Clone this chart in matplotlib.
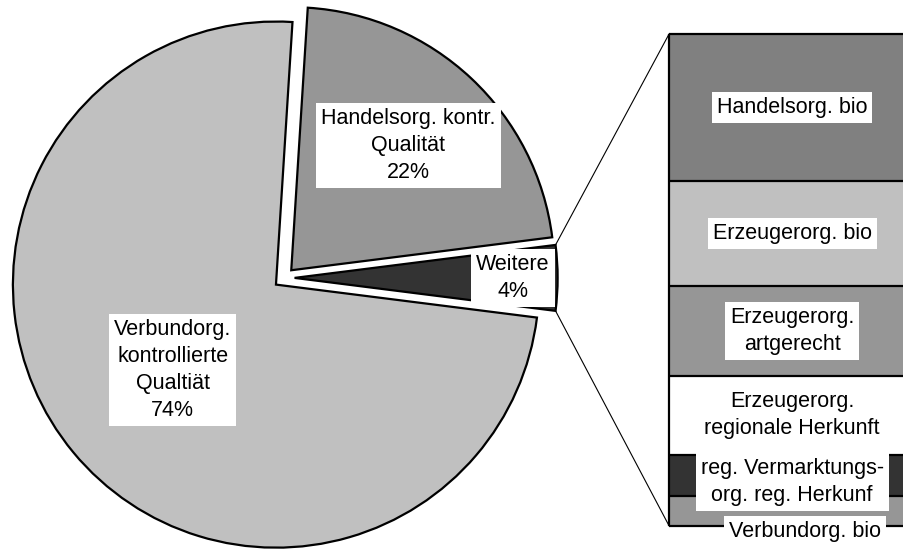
import numpy as np
import matplotlib.pyplot as plt

plt.rcParams['font.family'] = ['Liberation Sans', 'DejaVu Sans']

# main pie, percent of total (order: Weitere first so it sits at 3 o'clock)
pie_labels = ['Weitere', 'Handelsorg. kontr.\nQualität', 'Verbundorg.\nkontrollierte\nQualtiät']
pie_values = [4, 22, 74]
pie_colors = ['#333333', '#969696', '#C0C0C0']

# breakdown of "Weitere", percent of total, stacked bottom -> top
bar_labels = ['Verbundorg. bio', 'reg. Vermarktungs-\norg. reg. Herkunf',
              'Erzeugerorg.\nregionale Herkunft', 'Erzeugerorg.\nartgerecht',
              'Erzeugerorg. bio', 'Handelsorg. bio']
bar_values = [0.24, 0.34, 0.64, 0.73, 0.85, 1.20]
bar_colors = ['#969696', '#333333', '#FFFFFF', '#969696', '#C0C0C0', '#808080']

W, H = 903, 550
# small epsilon so float rounding doesn't drop the last pixel column
fig = plt.figure(figsize=(W / 100 + 0.002, H / 100 + 0.002), dpi=100)
ax = fig.add_axes([0, 0, 1, 1])

FS = 15.5
LS = 1.38
LW = 1.6

# ---- pie ----
R = 263
start = -pie_values[0] / sum(pie_values) * 360 / 2
wedges, _ = ax.pie(pie_values, colors=pie_colors, startangle=start, radius=R,
                   center=(284, 272), explode=[10.5] * 3, frame=True,
                   wedgeprops=dict(edgecolor='black', linewidth=LW))

box = dict(facecolor='white', edgecolor='none', pad=3.5)
label_dist = [0.83, 0.65, 0.51]
for w, lab, v, d in zip(wedges, pie_labels, pie_values, label_dist):
    a = np.deg2rad((w.theta1 + w.theta2) / 2)
    cx, cy = w.center
    ax.text(cx + d * R * np.cos(a), cy + d * R * np.sin(a), f'{lab}\n{v}%',
            ha='center', va='center', fontsize=FS, linespacing=LS,
            bbox=box, zorder=5)

# ---- stacked bar (runs off the right edge like the original) ----
bar_x, bar_y0, bar_h = 669, 24, 492
label_cx = bar_x + 123
scale = bar_h / sum(bar_values)
heights = np.array(bar_values) * scale
bottoms = bar_y0 + np.concatenate([[0], np.cumsum(heights)[:-1]])
bars = ax.bar(bar_x, heights, bottom=bottoms, width=400, align='edge',
              color=bar_colors, edgecolor='none', zorder=3)
# outlines drawn separately so no border shows where the bar is cut off
bar_top = bottoms[-1] + heights[-1]
ax.hlines(np.append(bottoms, bar_top), bar_x, W + 20, color='black',
          linewidth=LW, zorder=4)
ax.vlines(bar_x, bottoms[0], bar_top, color='black', linewidth=LW, zorder=4)

# label nudges (Excel pushed the small ones around)
nudge = {0: (13, -20), 1: (0, -6)}
for i, (b, lab) in enumerate(zip(bars, bar_labels)):
    dx, dy = nudge.get(i, (0, 0))
    ax.text(label_cx + dx, b.get_y() + b.get_height() / 2 + dy, lab,
            ha='center', va='center', fontsize=FS, linespacing=LS,
            bbox=box, zorder=6)

# ---- connector lines from "Weitere" to the bar ----
wt = wedges[0]
for th, y_end in [(wt.theta2, bar_top), (wt.theta1, bottoms[0])]:
    a = np.deg2rad(th)
    x0 = wt.center[0] + R * np.cos(a)
    y0 = wt.center[1] + R * np.sin(a)
    ax.plot([x0, bar_x], [y0, y_end], color='black', linewidth=0.8, zorder=2)

ax.set_xlim(0, W)
ax.set_ylim(0, H)
ax.set_aspect('equal')
ax.axis('off')

fig.savefig('out.png', dpi=100)
